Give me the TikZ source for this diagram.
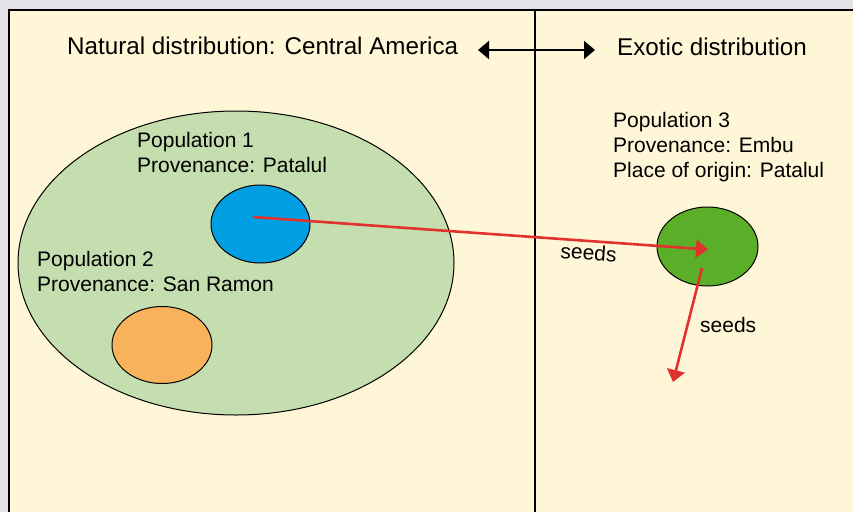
\documentclass[tikz,border=0pt]{standalone}
\usepackage{fontspec}
\setmainfont{Liberation Sans}
\usepackage{tikz}
\usetikzlibrary{positioning}
\usetikzlibrary{arrows.meta}
\usetikzlibrary{shapes.geometric}

\definecolor{outer}{HTML}{E4E4E8}
\definecolor{panel}{HTML}{FFF5D7}
\definecolor{range}{HTML}{C4DEB0}
\definecolor{popblue}{HTML}{009EE2}
\definecolor{poporange}{HTML}{F8B25C}
\definecolor{popgreen}{HTML}{5BAF28}
\definecolor{seedred}{HTML}{E3312D}

\begin{document}
\begin{tikzpicture}[ x = 1pt, y = -1pt
                     , font = \fontsize{21}{25}\selectfont
                     , head/.style = { font = \fontsize{24.2}{28}\selectfont
                                     , anchor = base west
                                     , inner sep = 0pt }
                     , label/.style = { align = left
                                      , anchor = north west
                                      , inner sep = 0pt }
                     , pop/.style = { ellipse
                                    , draw = black
                                    , line width = 1pt
                                    , inner sep = 0pt }
                     , seedflow/.style = { draw = seedred
                                         , line width = 2.6pt
                                         , -{Triangle[width=18pt, length=12pt]} }
                     , seedtext/.style = { inner sep = 0pt
                                         , anchor = base west }
                     ]

  \useasboundingbox (0,0) rectangle (853,512);

  %%
  %% Background panel and divider
  %%
  \fill[outer] (0,0) rectangle (853,512);
  \fill[panel] (9,10) rectangle (853,512);
  \draw[line width = 2.6pt] (9,512) -- (9,10) -- (853,10);
  \draw[line width = 1.6pt] (535,10) -- (535,512);

  %%
  %% Headings
  %%
  \node (natural) [head] at (67,54) {Natural distribution: Central America};
  \node (exotic) [head] at (617,55) {Exotic distribution};
  \coordinate (wleft) at (478,50);
  \coordinate (wright) at (595,50);
  \draw[line width = 2.2pt, {Triangle[width=18pt, length=11pt]}-{Triangle[width=18pt, length=11pt]}]
       (wleft) -- (wright);

  %%
  %% Populations
  %%
  \node (range) [pop, fill = range, minimum width = 436pt, minimum height = 304pt]
        at (236,263) {};
  \node (pone) [pop, fill = popblue, minimum width = 99pt, minimum height = 78pt]
        at (260.5,224) {};
  \node (ptwo) [pop, fill = poporange, minimum width = 100pt, minimum height = 77pt]
        at (162,345) {};
  \node (pthree) [pop, fill = popgreen, minimum width = 101pt, minimum height = 79pt]
        at (707.5,246.5) {};

  \node (lone) [label] at (137,132) {Population 1\\Provenance: Patalul};
  \node (ltwo) [label] at (37,251) {Population 2\\Provenance: San Ramon};
  \node (lthree) [label] at (613,112) {Population 3\\Provenance: Embu\\Place of origin: Patalul};

  %%
  %% Seed transfers
  %%
  \coordinate (src) at (253,217);
  \coordinate (dst) at (708,249.5);
  \coordinate (out) at (702,268);
  \coordinate (away) at (673,382);
  \draw[seedflow] (src) -- (dst);
  \draw[seedflow] (out) -- (away);
  \node (sone) [seedtext, rotate = -4] at (560,258) {seeds};
  \node (stwo) [seedtext] at (700,332) {seeds};
\end{tikzpicture}
\end{document}
